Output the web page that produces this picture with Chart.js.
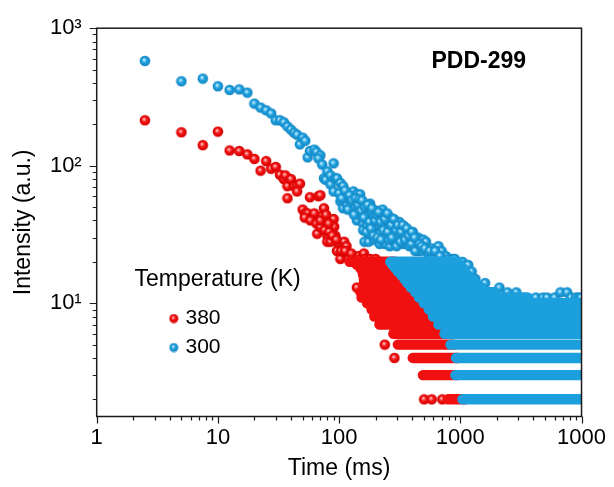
<!DOCTYPE html>
<html><head><meta charset="utf-8">
<script src="https://cdn.jsdelivr.net/npm/chart.js@4.4.1/dist/chart.umd.min.js"></script>
<style>html,body{margin:0;padding:0;background:#fff;overflow:hidden}canvas{display:block}</style>
</head><body>
<canvas id="c" width="614" height="487"></canvas>
<script>
// ---------------- DATA ----------------
const seriesNames = ['380', '300'];
const legendTitle = 'Temperature (K)';
const sampleName = 'PDD-299';
const xTitle = 'Time (ms)';
const yTitle = 'Intensity (a.u.)';

// individual resolved points [time (ms), intensity]
const red380Points = [[2.5,214],[5,175],[7.5,141],[10,177],[12.5,129],[15,128],[17.5,121],[20,112],[22.5,92],[25,108],[27.5,95],[30,98],[32.5,86],[35,80],[36,85],[37.5,71],[40,80],[42.5,71],[45,72],[47.5,74],[37.5,58],[45,65],[50,48],[52.5,45],[55,45],[57.5,59],[60,42],[62.5,45],[67.5,60],[70,61],[72.5,43],[75,49],[87.5,40],[90,41],[91,36],[66,32],[80,31],[93,31],[80,28],[85,28],[99,27],[96,24],[108,26],[102.5,21],[110,28],[116,23],[115,26],[122.5,22],[131,22],[135,21],[145,22],[150,21],[160,23],[165,21],[180,21],[200,21],[52,42],[58,40],[65,38],[70,36],[76,34],[83,33],[88,31],[95,29],[104,24],[112,24],[120,21],[126,23],[70,40],[78,44],[82,38],[503,2],[581,2],[710,2],[238,5],[286,4],[140,13]];
const blue300Points = [[2.5,578],[5,411],[7.5,430],[10,378],[12.5,356],[15,359],[17.5,340],[20,283],[22.5,265],[25,253],[27.5,240],[30,214],[32.5,214],[35,207],[37.5,193],[40,183],[42.5,174],[45,168],[47.5,143],[50,160],[52.5,152],[55,115],[57.5,128],[62.5,131],[65,126],[70,119],[67.5,113],[72.5,102],[75,81],[77.5,79],[80,91],[85,85],[85,73],[90,104],[90,65],[92.5,81],[96,81],[102.5,75],[102.5,55],[108,71],[108,49],[110,60],[116,62],[116,52],[120,57],[125,52],[131,65],[131,47],[135,50],[140,62],[140,55],[140,40],[145,48],[149,62],[149,44],[158,52],[158,38],[158,34],[162,28],[165,42],[169,47],[170,37],[175,44],[175,28],[180,53],[180,32],[185,46],[190,40],[195,43],[195,29],[203,47],[200,36],[210,37],[216,42],[216,32],[216,27],[225,36],[228,48],[235,44],[240,27],[245,40],[245,30],[255,35],[262,26],[265,42],[277,38],[277,32],[290,36],[285,28],[300,30],[314,39],[314,34],[330,30],[337,27],[345,36],[357,32],[370,29],[380,26],[390,30],[405,33],[410,28],[430,27],[440,24],[450,30],[470,24],[495,29],[520,28],[540,23],[580,25],[600,22],[640,23],[660,26],[700,24],[720,21],[760,22],[800,21],[860,21],[900,21],[100,63],[105,58],[112,66],[118,48],[122,61],[128,56],[133,44],[137,58],[143,52],[147,57],[152,47],[155,56],[160,42],[163,50],[168,33],[172,52],[178,39],[183,35],[187,49],[192,31],[198,40],[205,44],[207,30],[212,46],[220,39],[222,29],[232,34],[238,41],[250,45],[252,33],[258,29],[270,37],[272,30],[283,41],[295,34],[298,26],[305,37],[320,28],[325,33],[335,37],[350,29],[362,35],[375,31],[395,27],[398,33],[420,30],[425,24],[460,27],[480,26],[510,25],[560,24],[620,24],[680,22],[1040,20],[1160,19],[1240,17],[1330,15],[1600,14],[2100,13],[2450,12],[2900,12],[4200,11],[4800,11],[5200,11],[6000,11],[6700,12],[7600,12],[8200,11],[9000,11],[9500,11],[9900,11]];

// integer-count levels that form dense horizontal bands of overlapping points
const bandLevels       = [2, 3, 4, 5, 6, 7, 8, 9, 10, 11, 12, 13, 14, 15, 16, 17, 18, 19, 20];
const red380BandStart  = [790, 491, 405, 305, 280, 215, 195, 185, 170, 153, 150, 165, 160, 160, 158, 155, 149, 140, 122];
const red380BandEnd    = [1100, 950, 960, 880, 780, 700, 640, 590, 540, 490, 460, 430, 400, 380, 360, 340, 320, 300, 290];
const blue300BandStart = [1040, 910, 920, 830, 740, 660, 595, 550, 500, 455, 425, 390, 365, 345, 325, 305, 290, 275, 264];
const blue300BandEnd   = [10000, 10000, 10000, 10000, 10000, 10000, 10000, 10000, 10000, 3600, 1900, 1500, 1350, 1250, 1150, 1100, 1050, 1000, 950];

// axes
const xTickValues = [1,2,3,4,5,6,7,8,9,10,20,30,40,50,60,70,80,90,100,200,300,400,500,600,700,800,900,1000,2000,3000,4000,5000,6000,7000,8000,9000,10000];
const xLabelValues = [1, 10, 100, 1000, 10000];
const xLabelTexts  = ['1', '10', '100', '1000', '1000'];
const yTickValues = [2,3,4,5,6,7,8,9,10,20,30,40,50,60,70,80,90,100,200,300,400,500,600,700,800,900,1000];
const yLabelValues = [10, 100, 1000];
const yLabelTexts  = ['10\u00B9', '10\u00B2', '10\u00B3'];

// ---------------- STYLE / RENDER ----------------
const FONT = '"Liberation Sans", Arial, Helvetica, sans-serif';
Chart.defaults.font.family = FONT;
Chart.defaults.color = '#000';

function sphere(r, light, base, dark) {
  const s = Math.ceil(r * 2) + 1;
  const c = document.createElement('canvas');
  c.width = s; c.height = s;
  const g = c.getContext('2d');
  const cx = s / 2, cy = s / 2;
  const grad = g.createRadialGradient(cx - r * 0.2, cy - r * 0.25, 0, cx, cy, r);
  grad.addColorStop(0, '#ffffff');
  grad.addColorStop(0.2, light);
  grad.addColorStop(0.5, base);
  grad.addColorStop(1, dark);
  g.fillStyle = grad;
  g.beginPath(); g.arc(cx, cy, r, 0, Math.PI * 2); g.fill();
  return c;
}
const RED = '#f01010', BLUE = '#1c9fdd';
const redDot = sphere(5.3, '#ff8080', RED, '#d40000');
const blueDot = sphere(5.3, '#8ad4f6', BLUE, '#1586c2');
const redIcon = sphere(4.5, '#ff8080', RED, '#d40000');
const blueIcon = sphere(4.5, '#8ad4f6', BLUE, '#1586c2');

const toXY = arr => arr.map(p => ({x: p[0], y: p[1]}));
function bands(levels, starts, ends) {
  const d = [];
  levels.forEach((lv, i) => {
    d.push({x: starts[i], y: lv}, {x: ends[i], y: lv}, {x: ends[i], y: null});
  });
  return d;
}
const bandStyle = {type: 'line', pointRadius: 0, borderWidth: 10.4, borderCapStyle: 'round',
  borderJoinStyle: 'round', spanGaps: false, fill: false, tension: 0, showLine: true};

const frameTicks = {
  id: 'frameTicks',
  afterDatasetsDraw(chart) {
    const {ctx, chartArea: a, scales: {x, y}} = chart;
    ctx.save();
    ctx.strokeStyle = '#1a1a1a';
    ctx.lineWidth = 1.5;
    ctx.strokeRect(a.left, a.top, a.right - a.left, a.bottom - a.top);
    ctx.lineWidth = 1.2;
    ctx.beginPath();
    xTickValues.forEach(v => {
      const px = Math.round(x.getPixelForValue(v)) + 0.5;
      const len = xLabelValues.includes(v) ? 7 : 4;
      ctx.moveTo(px, a.bottom); ctx.lineTo(px, a.bottom + len);
    });
    yTickValues.forEach(v => {
      const py = Math.round(y.getPixelForValue(v)) + 0.5;
      const len = yLabelValues.includes(v) ? 7 : 4;
      ctx.moveTo(a.left, py); ctx.lineTo(a.left - len, py);
    });
    ctx.stroke();
    ctx.restore();
  }
};

const annotations = {
  id: 'annotations',
  afterDraw(chart) {
    const ctx = chart.ctx;
    ctx.save();
    ctx.fillStyle = '#000';
    ctx.textBaseline = 'middle';
    ctx.textAlign = 'left';
    ctx.font = 'bold 23px ' + FONT;
    ctx.fillText(sampleName, 431.5, 62);
    ctx.font = '23px ' + FONT;
    ctx.fillText(legendTitle, 134.5, 279.5);
    ctx.font = '21px ' + FONT;
    const icons = [redIcon, blueIcon];
    const ys = [318.5, 347.5];
    seriesNames.forEach((n, i) => {
      const ic = icons[i];
      ctx.drawImage(ic, 173.8 - ic.width / 2, ys[i] - ic.height / 2);
      ctx.fillText(n, 185.5, ys[i]);
    });
    ctx.restore();
  }
};

new Chart(document.getElementById('c'), {
  type: 'scatter',
  data: {
    datasets: [
      Object.assign({label: seriesNames[1] + ' bands', data: bands(bandLevels, blue300BandStart, blue300BandEnd),
        borderColor: BLUE, order: 0}, bandStyle),
      {label: seriesNames[1], data: toXY(blue300Points), pointStyle: blueDot, pointRadius: 5.3,
        backgroundColor: BLUE, borderWidth: 0, order: 1},
      Object.assign({label: seriesNames[0] + ' bands', data: bands(bandLevels, red380BandStart, red380BandEnd),
        borderColor: RED, order: 2}, bandStyle),
      {label: seriesNames[0], data: toXY(red380Points), pointStyle: redDot, pointRadius: 5.3,
        backgroundColor: RED, borderWidth: 0, order: 3}
    ]
  },
  options: {
    responsive: false,
    animation: false,
    devicePixelRatio: 1,
    events: [],
    layout: {padding: {left: 0, top: 20.7, right: 26.3, bottom: 0}},
    plugins: {legend: {display: false}, tooltip: {enabled: false}},
    scales: {
      x: {
        type: 'logarithmic', position: 'bottom', min: 1, max: 10000, bounds: 'data',
        afterBuildTicks: s => { s.ticks = xTickValues.map(v => ({value: v})); },
        afterFit: s => { s.height = 70.5; },
        grid: {display: false, drawTicks: false},
        border: {display: false},
        ticks: {
          autoSkip: false, maxRotation: 0, minRotation: 0, padding: 8, color: '#000',
          font: {size: 22},
          callback: v => { const i = xLabelValues.indexOf(v); return i >= 0 ? xLabelTexts[i] : ''; }
        },
        title: {display: true, text: xTitle, color: '#000', font: {size: 23}, padding: {top: 0, bottom: 5}}
      },
      y: {
        type: 'logarithmic', position: 'left', min: 1.5, max: 1000, bounds: 'data',
        afterBuildTicks: s => { s.ticks = yTickValues.map(v => ({value: v})); },
        afterFit: s => { s.width = 96.7; },
        grid: {display: false, drawTicks: false},
        border: {display: false},
        ticks: {
          autoSkip: false, padding: 15, color: '#000', font: {size: 22},
          callback: v => { const i = yLabelValues.indexOf(v); return i >= 0 ? yLabelTexts[i] : ''; }
        },
        title: {display: true, text: yTitle, color: '#000', font: {size: 23}, padding: {top: 10, bottom: 0}}
      }
    }
  },
  plugins: [frameTicks, annotations]
});
</script>
</body></html>
